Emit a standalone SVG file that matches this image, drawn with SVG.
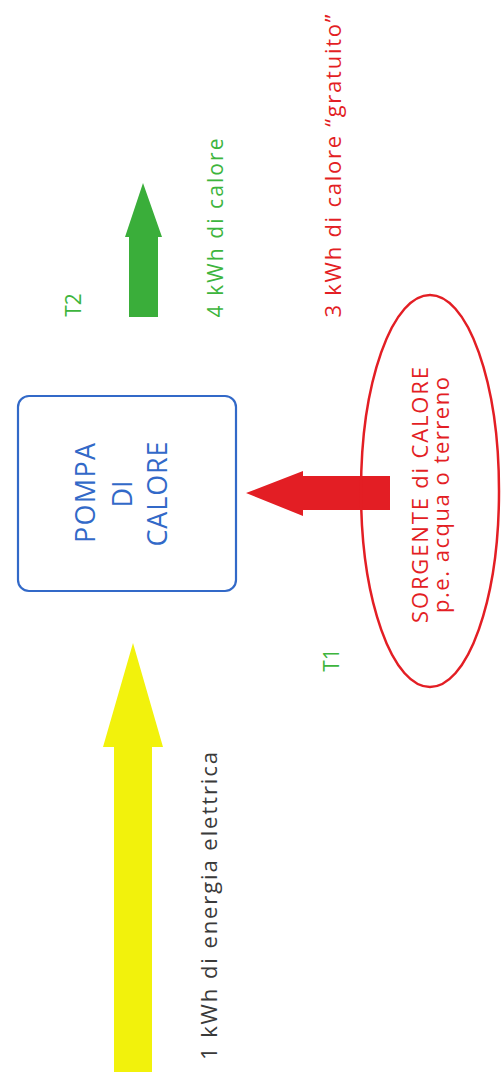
<svg xmlns="http://www.w3.org/2000/svg" width="502" height="1086" viewBox="0 0 502 1086">
<style>
text{font-family:"Open Sans","Liberation Sans",sans-serif;text-anchor:middle}
.blue{fill:#3269c8}
.red{fill:#e31e24}
.green{fill:#3db53d}
.dark{fill:#3a3a3a}
</style>
<rect width="502" height="1086" fill="#ffffff"/>
<g id="connectors">
<polygon id="arrow-yellow" points="114,1072 114,747 103,747 133,643 163,747 152,747 152,1072" fill="#f2f20c"/>
<polygon id="arrow-red" points="390,476 303,476 303,471 246,493 303,516 303,510 390,510" fill="#e31e24"/>
<polygon id="arrow-green" points="129,317 129,237 125,237 143,183 162,237 158,237 158,317" fill="#3aae3a"/>
</g>
<g id="pompa">
<rect x="18" y="396" width="218" height="195" rx="11" fill="none" stroke="#3269c8" stroke-width="2.2"/>
<text class="blue" font-size="27" transform="translate(95,493) rotate(-90)" textLength="100" lengthAdjust="spacing">POMPA</text>
<text class="blue" font-size="27" transform="translate(132,494) rotate(-90)">DI</text>
<text class="blue" font-size="27" transform="translate(167,494) rotate(-90)" textLength="105" lengthAdjust="spacing">CALORE</text>
</g>
<g id="sorgente">
<ellipse cx="430" cy="491" rx="69" ry="196" fill="none" stroke="#e31e24" stroke-width="2.5"/>
<text class="red" font-size="22" transform="translate(428,495) rotate(-90)" textLength="256" lengthAdjust="spacing">SORGENTE di CALORE</text>
<text class="red" font-size="22" transform="translate(449,495) rotate(-90)" textLength="236" lengthAdjust="spacing">p.e. acqua o terreno</text>
</g>
<g id="label-3kwh">
<text class="red" font-size="22" transform="translate(341,166) rotate(-90)" textLength="303" lengthAdjust="spacing">3 kWh di calore “gratuito”</text>
</g>
<g id="label-4kwh">
<text class="green" font-size="21" transform="translate(223,228) rotate(-90)" textLength="179" lengthAdjust="spacing">4 kWh di calore</text>
</g>
<g id="label-1kwh">
<text class="dark" font-size="22" transform="translate(217,906) rotate(-90)" textLength="308" lengthAdjust="spacing">1 kWh di energia elettrica</text>
</g>
<g id="label-t2">
<text class="green" font-size="21" transform="translate(81,305) rotate(-90)">T2</text>
</g>
<g id="label-t1">
<text class="green" font-size="21" transform="translate(339,660) rotate(-90)">T1</text>
</g>
</svg>
